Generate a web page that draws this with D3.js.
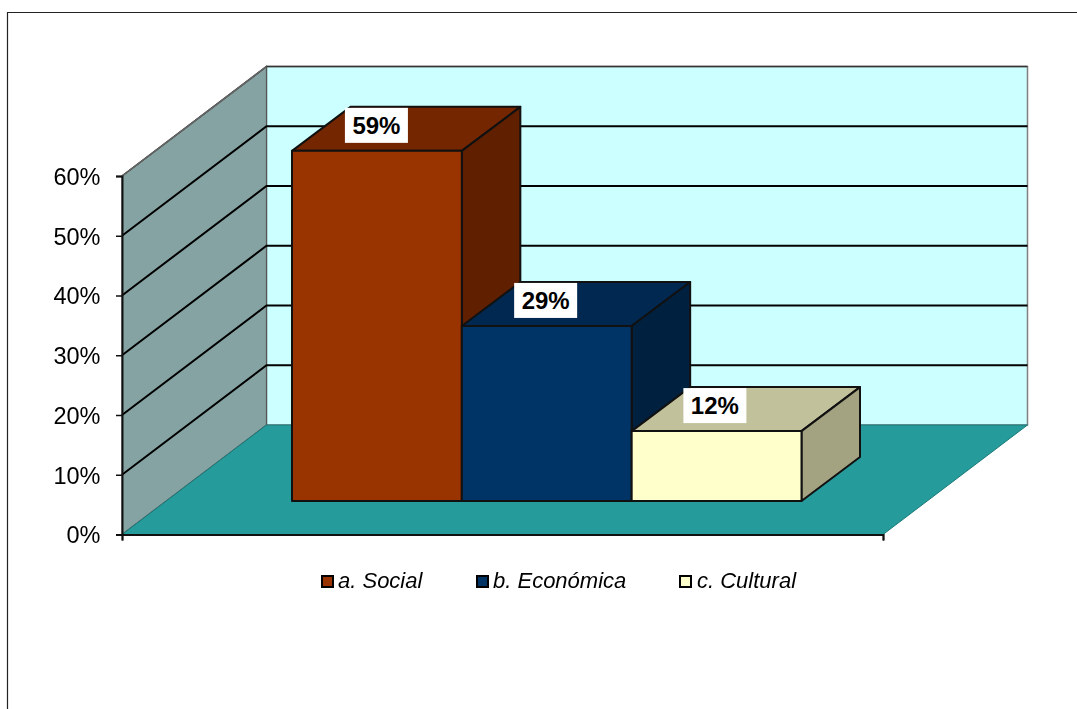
<!DOCTYPE html>
<html>
<head>
<meta charset="utf-8">
<style>
html,body{margin:0;padding:0;background:#fff;overflow:hidden}
svg{display:block;filter:blur(0.3px)}
text{font-family:"Liberation Sans",Arial,sans-serif;fill:#000}
</style>
<script src="https://d3js.org/d3.v7.min.js"></script>
</head>
<body>
<svg id="c" width="1077" height="709"></svg>
<script>
const categories = ["a. Social", "b. Económica", "c. Cultural"];
const values = [58.6, 29.3, 11.7];
const yTicks = [0, 10, 20, 30, 40, 50, 60];
const frontColors = ["#993300", "#003366", "#FFFFCC"];
const topColors = ["#742600", "#002850", "#C1C19B"];
const sideColors = ["#602000", "#002040", "#A3A382"];

const svg = d3.select("#c");
const W = 1077, H = 709;

// frame
svg.append("path").attr("d", `M7.5,${H+5}V12.5H${W+5}`).attr("fill", "none").attr("stroke", "#222").attr("stroke-width", 1.2);

// scales
const y = d3.scaleLinear().domain([0, 60]).range([534.5, 176]);
const xFront = d3.scaleLinear().domain([0, 1]).range([122, 883]);
const depthX = 144.5, depthY = -109.5;
const px = (u, v, d) => [xFront(u) + depthX * d, y(v) + depthY * d];
const poly = pts => "M" + pts.map(p => p.join(",")).join("L") + "Z";

const g = svg.append("g");
// walls
g.append("path").attr("d", poly([px(0,0,1), px(0,60,1), px(1,60,1), px(1,0,1)]))
  .attr("fill", "#CCFFFF").attr("stroke", "#808080").attr("stroke-width", 1.5);
g.append("path").attr("d", poly([px(0,0,0), px(0,60,0), px(0,60,1), px(0,0,1)]))
  .attr("fill", "#86A3A3").attr("stroke", "#555").attr("stroke-width", 1.2);
g.append("path").attr("d", poly([px(0,0,0), px(0,0,1), px(1,0,1), px(1,0,0)]))
  .attr("fill", "#269B9B").attr("stroke", "#1c7a7a").attr("stroke-width", 1);

// gridlines
yTicks.filter(t => t > 0).forEach(t => {
  const pts = [px(0,t,0), px(0,t,1), px(1,t,1)];
  g.append("path").attr("d", "M" + pts.map(p => p.join(",")).join("L"))
    .attr("fill", "none").attr("stroke", t === 60 ? "#333" : "#000").attr("stroke-width", t === 60 ? 1.5 : 2);
});
// restore top-left wall edge in grey
g.append("line").attr("x1", px(0,60,0)[0]).attr("y1", px(0,60,0)[1]).attr("x2", px(0,60,1)[0]).attr("y2", px(0,60,1)[1])
  .attr("stroke", "#666").attr("stroke-width", 1.5);

// axes
const axisY = d3.axisLeft(y).tickValues(yTicks).tickFormat(d => d + "%").tickSize(6).tickPadding(15.5);
const ay = svg.append("g").attr("transform", "translate(122,0)").call(axisY);
ay.selectAll("text").style("font-size", "23.5px").attr("dy", "0.36em");
ay.selectAll(".tick line").attr("stroke", "#111").attr("stroke-width", 1.5);
ay.select(".domain").attr("stroke", "#111").attr("stroke-width", 2);

const axisX = d3.axisBottom(xFront).tickValues([0, 1]).tickFormat("").tickSize(6);
const ax = svg.append("g").attr("transform", "translate(0,534.5)").call(axisX);
ax.selectAll(".tick line").attr("stroke", "#111").attr("stroke-width", 1.2);
ax.select(".domain").attr("stroke", "#111").attr("stroke-width", 2.2);

// bars
const band = d3.scaleBand().domain(categories).range([292, 801.5]);
const barBase = 501, barDx = 58.5, barDy = -44;
const barH = d3.scaleLinear().domain([0, 60]).range([0, 358.5]);

const bars = svg.append("g").selectAll("g").data(categories).join("g");
bars.each(function (c, i) {
  const s = d3.select(this);
  const x0 = band(c), x1 = x0 + band.bandwidth(), yt = barBase - barH(values[i]);
  const style = sel => sel.attr("stroke", "#111").attr("stroke-width", 2).attr("stroke-linejoin", "round");
  s.append("path").attr("d", poly([[x0,yt],[x0+barDx,yt+barDy],[x1+barDx,yt+barDy],[x1,yt]])).attr("fill", topColors[i]).call(style);
  s.append("path").attr("d", poly([[x1,yt],[x1+barDx,yt+barDy],[x1+barDx,barBase+barDy],[x1,barBase]])).attr("fill", sideColors[i]).call(style);
  s.append("path").attr("d", poly([[x0,yt],[x1,yt],[x1,barBase],[x0,barBase]])).attr("fill", frontColors[i]).call(style);
});

// data labels
const labels = svg.append("g").selectAll("g").data(categories).join("g")
  .attr("transform", (c, i) => `translate(${band(c) + band.bandwidth()/2 - 0.5 - i*0.6},${barBase - barH(values[i]) - 25.5})`);
labels.append("rect").attr("x", -31.5).attr("y", -17.5).attr("width", 63).attr("height", 35).attr("fill", "#fff");
labels.append("text").attr("text-anchor", "middle").attr("dy", "0.36em")
  .style("font-size", "24px").style("font-weight", "bold")
  .text((c, i) => Math.round(values[i]) + "%");

// legend
const legendSwatchX = [321, 476, 679];
const legendTextX = [17, 17, 18];
const legend = svg.append("g").selectAll("g").data(categories).join("g")
  .attr("transform", (c, i) => `translate(${legendSwatchX[i]},575)`);
legend.append("rect").attr("x", 1).attr("y", 1).attr("width", 11).attr("height", 11)
  .attr("fill", (c, i) => frontColors[i]).attr("stroke", "#000").attr("stroke-width", 2);
legend.append("text").attr("x", (c, i) => legendTextX[i]).attr("y", 13)
  .style("font-size", "22px").style("font-style", "italic").text(c => c);
</script>
</body>
</html>
